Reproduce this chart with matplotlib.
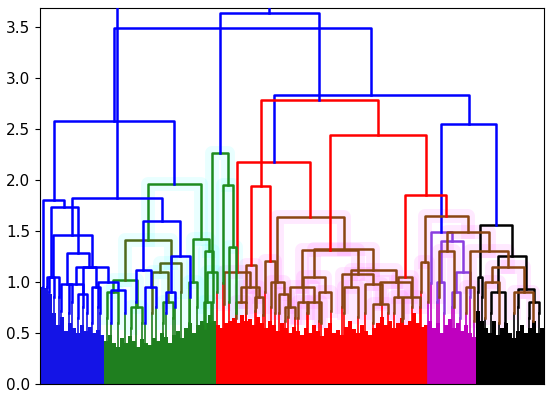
import matplotlib
matplotlib.use('Agg')
import matplotlib.pyplot as plt

# Two dendrograms drawn over the same leaves.
# leaf = (number of leaf slots, height), link = [height, colour key, left, right]

slot = 4  # leaf slots per fringe value

# bottom band: solid fill per cluster, one height per 4 slots
band_colors = ['#1414e6', '#1f7f1f', '#ff0000', '#bf00bf', '#000000']
fringe_blue = [0.95, 0.94, 0.88, 0.7, 0.58, 0.66, 0.52, 0.6, 0.55, 0.5, 0.58, 0.52, 0.56, 0.5, 0.53, 0.48]
fringe_green = [0.42, 0.48, 0.4, 0.36, 0.45, 0.4, 0.47, 0.42, 0.36, 0.44, 0.4, 0.38, 0.45, 0.42,
                0.5, 0.46, 0.4, 0.48, 0.52, 0.45, 0.55, 0.6, 0.5, 0.58, 0.62, 0.6, 0.68, 0.62]
fringe_red = [0.58, 0.55, 0.6, 0.62, 0.65, 0.6, 0.68, 0.62, 0.64, 0.58,
              0.66, 0.6, 0.55, 0.62, 0.58, 0.52, 0.6, 0.55, 0.5, 0.56,
              0.52, 0.48, 0.55, 0.5, 0.58, 0.52, 0.47, 0.55, 0.6, 0.5,
              0.53, 0.48, 0.56, 0.62, 0.54, 0.5, 0.58, 0.52, 0.48, 0.55,
              0.6, 0.66, 0.58, 0.62, 0.55, 0.6, 0.65, 0.58, 0.62, 0.7,
              0.6, 0.56, 0.58]
fringe_magenta = [0.62, 0.55, 0.6, 0.5, 0.58, 0.64, 0.55, 0.6, 0.52, 0.58, 0.5, 0.46]
fringe_black = [0.72, 0.62, 0.55, 0.5, 0.62, 0.48, 0.55, 0.6, 0.5, 0.45, 0.52, 0.58, 0.5, 0.55, 0.62, 0.5, 0.55]
fringes = [fringe_blue, fringe_green, fringe_red, fringe_magenta, fringe_black]

link_colors = {'B': '#0000ff', 'G': '#1e8c1e', 'O': '#4f6a1c', 'R': '#ff0000',
               'N': '#8b4513', 'M': '#8a3ee0', 'K': '#000000'}
halo_colors = {'N': '#ff55ff', 'O': '#55ffff', 'G': '#55ffff'}

# base tree (colours the band)
blue_part = [1.80, 'B', (6, 0.95),
             [1.74, 'B',
              [1.05, 'B', (5, 0.90), (5, 0.85)],
              [1.28, 'B',
               [0.98, 'B', (10, 0.72), (12, 0.80)],
               [1.15, 'B', (10, 0.75), [0.95, 'B', (8, 0.60), (7, 0.70)]]]]]
green_part = [1.96, 'G',
              [1.41, 'O',
               [1.02, 'G', [0.90, 'G', (8, 0.65), (14, 0.60)],
                           [0.75, 'G', (12, 0.55), (10, 0.60)]],
               [1.19, 'O', [1.10, 'O', (10, 0.70), [0.80, 'G', (12, 0.60), (8, 0.65)]],
                           (8, 0.90)]],
              [1.42, 'G', [1.00, 'G', (8, 0.60), (8, 0.75)],
                          [1.30, 'G', (8, 0.55), (8, 0.80)]]]
red_part = [2.18, 'R',
            [1.10, 'N', (14, 0.78),
                        [0.95, 'N', [0.80, 'N', (10, 0.65), (10, 0.70)],
                                    [0.85, 'N', (8, 0.72), (8, 0.68)]]],
            [1.64, 'N',
             [1.00, 'N', (8, 0.75), [0.88, 'N', (8, 0.70), (10, 0.66)]],
             [1.32, 'N',
              [1.05, 'N', [0.80, 'N', (10, 0.65), (10, 0.70)],
                          [0.90, 'N', (12, 0.62), (12, 0.72)]],
              [1.12, 'N', [0.95, 'N', (14, 0.70), (14, 0.66)],
                          [1.00, 'N', [0.78, 'N', (15, 0.60), (15, 0.70)],
                                      [0.85, 'N', (16, 0.65), (17, 0.75)]]]]]]
magenta_part = [1.49, 'M', (6, 0.99),
                [1.40, 'M', [1.00, 'M', (6, 0.80), (8, 0.70)],
                            [1.10, 'M', [0.90, 'M', (8, 0.75), (8, 0.65)], (12, 0.85)]]]
black_part = [1.56, 'K', [1.05, 'K', (4, 0.90), (4, 0.85)],
              [1.25, 'K', [0.90, 'K', (14, 0.70), (14, 0.60)],
                          [0.93, 'K', (12, 0.75), [0.80, 'K', (10, 0.65), (10, 0.70)]]]]
base_tree = [3.49, 'B', [2.58, 'B', blue_part, green_part],
             [2.83, 'B', red_part, [2.55, 'B', magenta_part, black_part]]]

# second tree drawn on top
over_left = [1.82, 'B',
             [1.46, 'B', [1.05, 'B', (14, 0.95), (10, 0.85)],
                         [1.15, 'B', [0.98, 'B', (10, 0.70), [0.88, 'B', (8, 0.65), (10, 0.70)]],
                                     [1.00, 'B', (12, 0.75), [0.92, 'B', (14, 0.60), (14, 0.70)]]]],
             [1.60, 'B', [1.12, 'B', (8, 0.80), [0.95, 'B', (10, 0.60), (12, 0.75)]],
                         [1.25, 'B', [0.90, 'B', (8, 0.70), (10, 0.75)], (20, 0.85)]]]
over_right = [3.64, 'B',
              [2.26, 'G', [1.10, 'G', [0.80, 'G', (7, 0.60), (7, 0.62)], (6, 0.90)],
                          [1.95, 'G', (6, 0.99), [1.34, 'G', (6, 0.80), (8, 0.70)]]],
              [2.78, 'R',
               [1.94, 'R', [1.17, 'N', (12, 0.80), (8, 0.75)],
                           [1.21, 'N', (10, 0.90), (10, 0.70)]],
               [2.44, 'R',
                [1.31, 'N', [0.95, 'N', [0.75, 'N', (10, 0.62), (10, 0.65)],
                                        [0.80, 'N', (14, 0.70), (14, 0.60)]],
                            [1.08, 'N', (28, 0.75), [0.98, 'N', (17, 0.70), (17, 0.80)]]],
                [1.85, 'R',
                 [1.05, 'N', [0.85, 'N', (8, 0.70), (8, 0.62)], (12, 0.75)],
                 [1.65, 'N', [1.20, 'N', (6, 0.90), (8, 0.80)],
                             [1.49, 'N', [1.30, 'N', (14, 0.85), (16, 0.75)],
                                         [1.30, 'N', [0.95, 'N', (8, 0.70), (8, 0.62)],
                                                     [1.15, 'N', [1.00, 'N', (14, 0.65), (14, 0.60)],
                                                                 [0.90, 'N', (16, 0.70), (22, 0.62)]]]]]]]]]
over_tree = [3.90, 'B', over_left, over_right]

LW = 1.8

fig = plt.figure(figsize=(5.5, 3.95), dpi=100)
ax = fig.add_axes([40 / 550, 11 / 395, 504 / 550, 376 / 395])

# band fill
edges = [0]
for i, fr in enumerate(fringes):
    x0 = edges[-1]
    xs = [x0 + slot * (k + 0.5) for k in range(len(fr))]
    ax.bar(xs, fr, width=slot, color=band_colors[i], linewidth=0, zorder=2)
    edges.append(x0 + slot * len(fr))


def band_at(x):
    for i in range(len(band_colors)):
        if edges[i] <= x < edges[i + 1]:
            return band_colors[i]
    return band_colors[-1]


def place(node, x0, z):
    if isinstance(node, tuple):
        w, h = node
        xc = x0 + w / 2
        # thin stem from the band up to the leaf top
        ax.plot([xc, xc], [0, h], color=band_at(xc), lw=1.2, zorder=2.5)
        return xc, h, x0 + w
    h, c, left, right = node
    xl, hl, x1 = place(left, x0, z)
    xr, hr, x2 = place(right, x1, z)
    px, py = [xl, xl, xr, xr], [hl, h, h, hr]
    if c in halo_colors:
        ax.plot(px, py, color=halo_colors[c], lw=10, alpha=0.13, zorder=1)
    ax.plot(px, py, color=link_colors[c], lw=LW, zorder=z)
    return (xl + xr) / 2, h, x2


place(base_tree, 0, 3)
place(over_tree, 0, 4)

ax.set_xlim(0, edges[-1])
ax.set_ylim(0, 3.686)
ax.set_xticks([])
ax.set_yticks([0, 0.5, 1.0, 1.5, 2.0, 2.5, 3.0, 3.5])
ax.tick_params(axis='y', labelsize=11)

fig.savefig('out.png', dpi=100)
